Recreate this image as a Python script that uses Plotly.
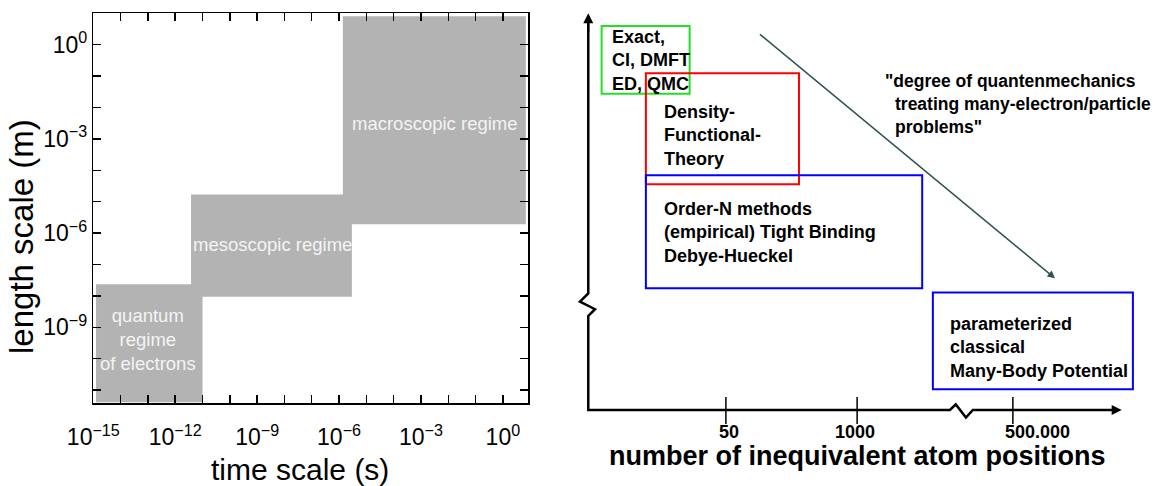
import plotly.graph_objects as go

W, H = 1164, 486
FONT = "Liberation Sans, Arial, Helvetica, sans-serif"

# ---------------- left panel: regimes (log10 exponents) ----------------
regime_labels = ["quantum<br>regime<br>of electrons", "mesoscopic regime", "macroscopic regime"]
time_lo_exp = [-14.9, -11.42, -5.86]
time_hi_exp = [-11.0, -5.53, 0.84]
length_lo_exp = [-11.39, -8.03, -5.72]
length_hi_exp = [-7.63, -4.77, 0.91]
label_time_exp = [-13.0, -8.44, -2.47]
label_length_exp = [-9.39, -6.36, -2.50]

time_major_exp = [-15, -12, -9, -6, -3, 0]
time_minor_exp = [-14, -13, -11, -10, -8, -7, -5, -4, -2, -1]
length_major_exp = [-9, -6, -3, 0]
length_minor_exp = [-11, -10, -8, -7, -5, -4, -2, -1, 1]
time_range_exp = [-15, 0.92]
length_range_exp = [-11.42, 1.0]

# ---------------- right panel: schematic (abstract units) ----------------
method_labels = ["Exact,<br>CI, DMFT<br>ED, QMC",
                 "Density-<br>Functional-<br>Theory",
                 "Order-N methods<br>(empirical) Tight Binding<br>Debye-Hueckel",
                 "parameterized<br>classical<br>Many-Body Potential"]
method_colors = ["#22e022", "#ff0000", "#0000ff", "#0000ff"]
box_x0 = [0.25, 1.08, 1.08, 6.46]
box_x1 = [1.90, 3.95, 6.26, 10.21]
box_y0 = [7.97, 5.69, 3.07, 0.52]
box_y1 = [9.68, 8.49, 5.92, 2.96]
label_x = [0.40, 1.376, 1.376, 6.74]
label_y = [8.80, 6.93, 4.47, 1.58]

atom_tick_pos = [2.58, 5.04, 7.96]
atom_tick_labels = ["50", "1000", "500.000"]
atom_label_pos = [2.63, 5.00, 8.43]

quote_lines = ['"degree of quantenmechanics', 'treating many-electron/particle<br>problems"']
quote_x = [5.53, 5.71]
quote_y = [8.30, 7.42]

trend_start = (3.19, 9.50)
trend_end = (8.75, 3.32)

fig = go.Figure()

# gray regime rectangles
for i in range(len(regime_labels)):
    x0, x1 = 10 ** time_lo_exp[i], 10 ** time_hi_exp[i]
    y0, y1 = 10 ** length_lo_exp[i], 10 ** length_hi_exp[i]
    fig.add_trace(go.Scatter(
        x=[x0, x1, x1, x0, x0], y=[y0, y0, y1, y1, y0],
        mode="lines", fill="toself", fillcolor="#b3b3b3",
        line=dict(width=0, color="#b3b3b3"), hoverinfo="skip",
        xaxis="x", yaxis="y"))


def sup_label(e):
    s = str(e).replace("-", "\u2212")
    return "10<sup>" + s + "</sup>"


# right panel axes (with break marks)
fig.add_trace(go.Scatter(
    x=[0, 0, -0.156, 0.126, 0, 0, 6.78, 6.89, 7.08, 7.21, 9.9],
    y=[9.9, 2.94, 2.73, 2.54, 2.37, 0, 0, 0.14, -0.19, 0, 0],
    mode="lines", line=dict(color="black", width=2.5),
    hoverinfo="skip", xaxis="x2", yaxis="y2"))
# ticks
tx, ty = [], []
for t in atom_tick_pos:
    tx += [t, t, None]
    ty += [0.33, -0.35, None]
fig.add_trace(go.Scatter(x=tx, y=ty, mode="lines", line=dict(color="black", width=1.5),
                         hoverinfo="skip", xaxis="x2", yaxis="y2"))

shapes = []
for i in range(len(method_labels)):
    shapes.append(dict(type="rect", xref="x2", yref="y2",
                       x0=box_x0[i], x1=box_x1[i], y0=box_y0[i], y1=box_y1[i],
                       line=dict(color=method_colors[i], width=2),
                       fillcolor="rgba(0,0,0,0)", layer="above"))

annotations = []
# left panel region labels
for i in range(len(regime_labels)):
    annotations.append(dict(xref="x", yref="y", x=label_time_exp[i], y=label_length_exp[i],
                            text=regime_labels[i], showarrow=False,
                            font=dict(family=FONT, size=18.5, color="#f4f4f4"),
                            xanchor="center", yanchor="middle", align="center"))
# left titles
annotations.append(dict(xref="paper", yref="paper", x=300 / W, y=1 - 469 / H,
                        text="time scale (s)", showarrow=False,
                        font=dict(family=FONT, size=30, color="black"),
                        xanchor="center", yanchor="middle"))
annotations.append(dict(xref="paper", yref="paper", x=22 / W, y=1 - 237 / H,
                        text="length scale (m)", showarrow=False, textangle=-90,
                        font=dict(family=FONT, size=33, color="black"),
                        xanchor="center", yanchor="middle"))

# right panel texts
for i in range(len(method_labels)):
    annotations.append(dict(xref="x2", yref="y2", x=label_x[i], y=label_y[i],
                            text="<b>" + method_labels[i] + "</b>", showarrow=False,
                            font=dict(family=FONT, size=18, color="black"),
                            xanchor="left", yanchor="middle", align="left"))
for i in range(len(quote_lines)):
    annotations.append(dict(xref="x2", yref="y2", x=quote_x[i], y=quote_y[i],
                            text="<b>" + quote_lines[i] + "</b>", showarrow=False,
                            font=dict(family=FONT, size=17.5, color="black"),
                            xanchor="left", yanchor="middle", align="left"))
for i in range(len(atom_tick_labels)):
    annotations.append(dict(xref="x2", yref="y2", x=atom_label_pos[i], y=-0.555,
                            text="<b>" + atom_tick_labels[i] + "</b>", showarrow=False,
                            font=dict(family=FONT, size=18, color="black"),
                            xanchor="center", yanchor="middle", borderpad=0))
annotations.append(dict(xref="x2", yref="y2", x=5.04, y=-1.16,
                        text="<b>number of inequivalent atom positions</b>", showarrow=False,
                        font=dict(family=FONT, size=27, color="black"),
                        xanchor="center", yanchor="middle", borderpad=0))
annotations.append(dict(xref="x2", yref="y2", x=-0.38, y=7.34,
                        text="<b>accuracy</b>", showarrow=False, textangle=-90,
                        font=dict(family=FONT, size=24, color="black"),
                        xanchor="center", yanchor="middle"))
# arrows
annotations.append(dict(xref="x2", yref="y2", axref="x2", ayref="y2",
                        x=10.0, y=0, ax=9.5, ay=0, text="", showarrow=True,
                        arrowhead=2, arrowsize=1, arrowwidth=2, arrowcolor="black", standoff=0))
annotations.append(dict(xref="x2", yref="y2", axref="x2", ayref="y2",
                        x=0, y=10.0, ax=0, ay=9.5, text="", showarrow=True,
                        arrowhead=2, arrowsize=1, arrowwidth=2, arrowcolor="black", standoff=0))
annotations.append(dict(xref="x2", yref="y2", axref="x2", ayref="y2",
                        x=trend_end[0], y=trend_end[1], ax=trend_start[0], ay=trend_start[1],
                        text="", showarrow=True, arrowhead=2, arrowsize=1,
                        arrowwidth=1.5, arrowcolor="#2f5252", standoff=0))

axis_common = dict(type="log", showgrid=False, zeroline=False, showline=True,
                   linecolor="black", linewidth=1.5, mirror="allticks",
                   ticks="inside", ticklen=8, tickwidth=1.5, tickcolor="black",
                   tickfont=dict(family=FONT, size=23, color="black"))

fig.update_layout(
    width=W, height=H, margin=dict(l=0, r=0, t=0, b=0, autoexpand=False),
    paper_bgcolor="white", plot_bgcolor="white", showlegend=False,
    xaxis=dict(domain=[93.3 / W, 528 / W], range=time_range_exp,
               tickvals=[10 ** e for e in time_major_exp],
               ticktext=[sup_label(e) for e in time_major_exp],
               minor=dict(tickvals=[10 ** e for e in time_minor_exp], ticks="inside",
                          ticklen=8, tickwidth=1.5, tickcolor="black", showgrid=False),
               ticklabelstandoff=13, anchor="y", automargin=False, **axis_common),
    yaxis=dict(domain=[1 - 403.3 / H, 1 - 13.3 / H], range=length_range_exp,
               tickvals=[10 ** e for e in length_major_exp],
               ticktext=[sup_label(e) for e in length_major_exp],
               minor=dict(tickvals=[10 ** e for e in length_minor_exp], ticks="inside",
                          ticklen=8, tickwidth=1.5, tickcolor="black", showgrid=False),
               anchor="x", automargin=False, **axis_common),
    xaxis2=dict(domain=[575 / W, 1.0], range=[-0.249, 10.793], visible=False,
                anchor="y2", fixedrange=True),
    yaxis2=dict(domain=[0, 1], range=[-1.916, 10.335], visible=False,
                anchor="x2", fixedrange=True),
    shapes=shapes, annotations=annotations,
)

fig.write_html("out.html", config={"displayModeBar": False, "staticPlot": True},
               post_script="document.body.style.margin='0';document.body.style.padding='0';")
